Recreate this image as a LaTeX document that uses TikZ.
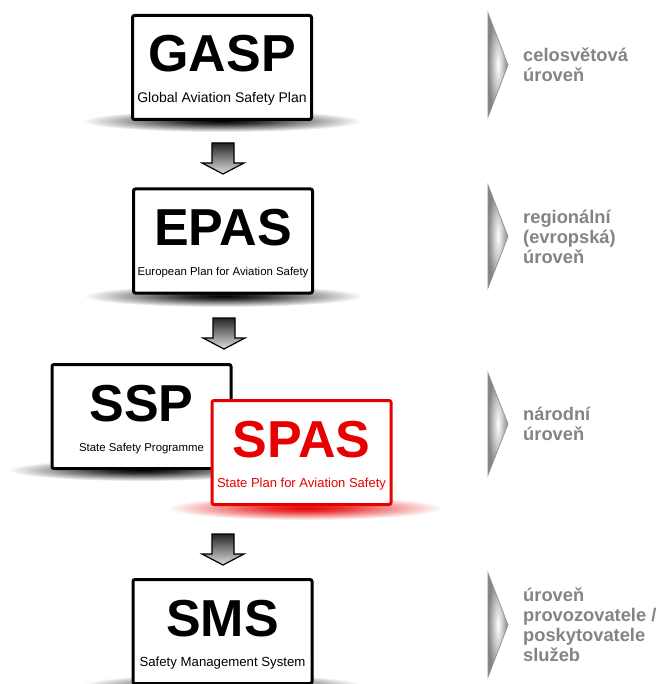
\documentclass[tikz,border=0pt]{standalone}
\usepackage{fontspec}
\setmainfont{Liberation Sans}
\usetikzlibrary{calc}

\definecolor{spasred}{RGB}{230,0,0}
\definecolor{levelgray}{RGB}{132,132,132}

% soft elliptical shadows: dark in the middle, white at the rim
% (TikZ fits the 25bp circle of a radial shading to the path)
\pgfdeclareradialshading{shadowblack}{\pgfpoint{0bp}{0bp}}{%
  color(0bp)=(black); color(7bp)=(black!80); color(16bp)=(black!40);
  color(25bp)=(white); color(50bp)=(white)}
\pgfdeclareradialshading{shadowred}{\pgfpoint{0bp}{0bp}}{%
  color(0bp)=(spasred); color(7bp)=(spasred!80); color(16bp)=(spasred!40);
  color(25bp)=(white); color(50bp)=(white)}

\tikzset{
  planbox/.style={draw=#1, line width=3pt, rounded corners=2pt, fill=white,
    minimum width=179pt, minimum height=104pt, inner sep=0pt},
  planbox/.default=black,
  plantitle/.style={font=\fontsize{52}{52}\selectfont\bfseries, anchor=base, inner sep=0pt},
  plansub/.style={font=\fontsize{#1}{#1}\selectfont, anchor=base, inner sep=0pt},
  downarrow/.style={draw=black, line width=1.2pt, line join=miter,
    top color=black!85, bottom color=black!12},
  chevron/.style={draw=levelgray!90, line width=0.7pt,
    inner color=white, outer color=levelgray},
  leveltext/.style={font=\fontsize{18.3}{20}\selectfont\bfseries, text=levelgray,
    align=left, anchor=west, inner sep=0pt},
}

% box with a large acronym and its full name underneath
\newcommand\planlevel[7]{% name, centre, border colour, text colour, acronym, full name, name size
  \node[planbox=#3] (#1) at #2 {};
  \node[plantitle, text=#4] (#1-title) at ($(#1.north)+(0,58)$) {#5};
  \node[plansub=#7, text=#4] (#1-sub) at ($(#1.north)+(0,88.5)$) {#6};
}

% shaded block arrow pointing down, hung from a named coordinate
\newcommand\levelarrow[2]{% name, top centre
  \coordinate (#1) at #2;
  \path[downarrow] ($(#1)+(-11,0)$) -- ++(22,0) -- ++(0,20) -- ++(10,0)
    -- ++(-21,11) -- ++(-21,-11) -- ++(10,0) -- cycle;
}

% grey wedge marker and the level caption next to it
\newcommand\levelmark[4]{% name, top y, bottom y, caption
  \coordinate (#1-top) at (488,#2);
  \coordinate (#1-bot) at (488,#3);
  \path[chevron] (#1-top) -- ($(#1-top)!0.5!(#1-bot)+(20,0)$) -- (#1-bot) -- cycle;
  \node[leveltext] (#1-text) at ($(#1-top)!0.5!(#1-bot)+(35,0)$) {#4};
}

\begin{document}
\begin{tikzpicture}[x=1pt, y=-1pt]
  \fill[white] (0,0) rectangle (662,684);
  \useasboundingbox (0,0) rectangle (662,684);

  % shadows below the boxes
  \shade[shading=shadowblack] (222,121) ellipse [x radius=140, y radius=11];
  \shade[shading=shadowblack] (223,296) ellipse [x radius=140, y radius=11];
  \shade[shading=shadowblack] (141,470) ellipse [x radius=133, y radius=11];
  \shade[shading=shadowred] (305,508) ellipse [x radius=138, y radius=12];
  \shade[shading=shadowblack] (222,685) ellipse [x radius=140, y radius=11];

  % plan boxes
  \planlevel{gasp}{(222,67.5)}{black}{black}{GASP}{Global Aviation Safety Plan}{14}
  \planlevel{epas}{(223,241)}{black}{black}{EPAS}{European Plan for Aviation Safety}{11.4}
  \planlevel{ssp}{(141.5,416.5)}{black}{black}{SSP}{State Safety Programme}{11.4}
  \planlevel{spas}{(301.5,452.5)}{spasred}{spasred}{SPAS}{State Plan for Aviation Safety}{13}
  \planlevel{sms}{(222.5,631.5)}{black}{black}{SMS}{Safety Management System}{13.2}

  % arrows between the levels
  \levelarrow{arrA}{(223,143)}
  \levelarrow{arrB}{(224,318)}
  \levelarrow{arrC}{(223,534)}

  % level captions
  \levelmark{lvA}{13}{117}{celosvětová\\úroveň}
  \levelmark{lvB}{185}{288}{regionální\\(evropská)\\úroveň}
  \levelmark{lvC}{373}{475}{národní\\úroveň}
  \levelmark{lvD}{573}{677}{úroveň\\provozovatele /\\poskytovatele\\služeb}
\end{tikzpicture}
\end{document}
